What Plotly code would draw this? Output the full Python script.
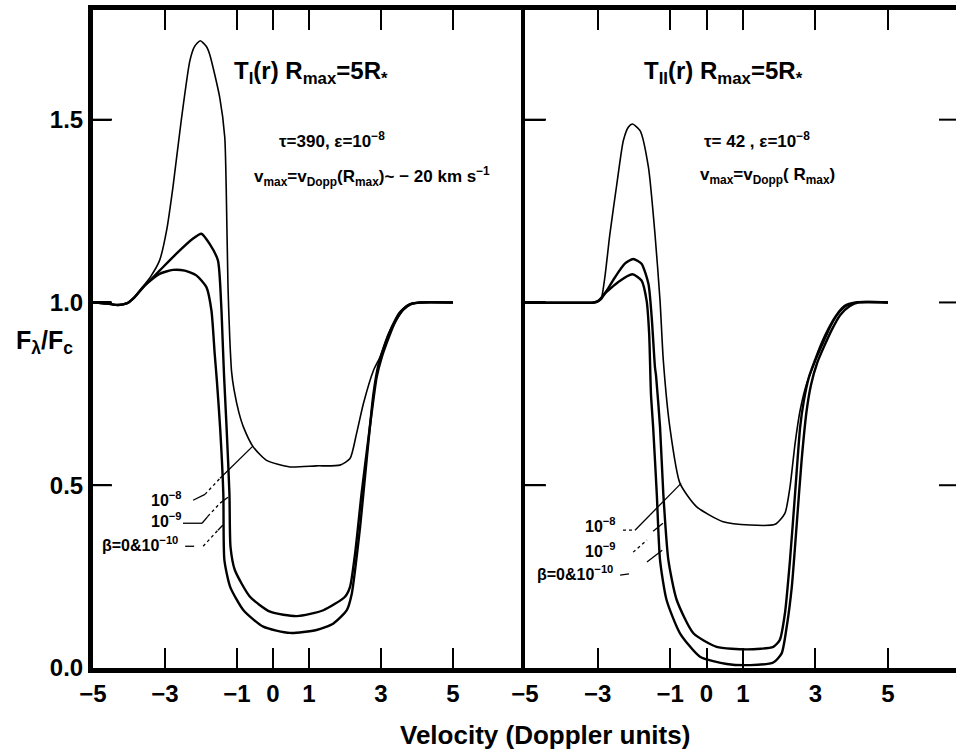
import plotly.graph_objects as go

# ---------------- data ----------------
# Left panel: T_I(r), Rmax = 5 R*
left_a_x = [-5.0, -4.6, -4.3, -4.05, -3.85, -3.6, -3.39, -3.15, -2.95, -2.78, -2.55, -2.31, -2.18, -2.02,
            -1.85, -1.76, -1.48, -1.34, -1.30, -1.25, -1.20, -1.15, -1.08, -0.95, -0.82, -0.55, -0.18, 0.47,
            1.2, 1.86, 2.14, 2.32, 2.51, 2.79, 2.97, 3.12, 3.3, 3.5, 3.75, 4.05, 5.0]
left_a_y = [1.0, 0.997, 0.993, 0.998, 1.014, 1.045, 1.072, 1.115, 1.20, 1.315, 1.497, 1.661, 1.70, 1.716,
            1.70, 1.679, 1.561, 1.452, 1.315, 1.042, 0.90, 0.81, 0.76, 0.70, 0.659, 0.605, 0.568, 0.55,
            0.553, 0.555, 0.573, 0.641, 0.723, 0.814, 0.85, 0.89, 0.935, 0.972, 0.994, 1.0, 1.0]

left_b_x = [-5.0, -4.6, -4.3, -4.05, -3.85, -3.6, -3.15, -2.69, -2.22, -1.99, -1.76, -1.53, -1.44, -1.40,
            -1.36, -1.29, -1.21, -1.18, -1.06, -0.64, -0.08, 0.66, 1.40, 2.0, 2.14, 2.28, 2.46, 2.69, 2.88,
            3.02, 3.18, 3.37, 3.57, 3.8, 4.1, 5.0]
left_b_y = [1.0, 0.997, 0.993, 0.998, 1.014, 1.042, 1.087, 1.133, 1.175, 1.188, 1.16, 1.115, 0.996, 0.90,
            0.80, 0.659, 0.477, 0.331, 0.268, 0.195, 0.154, 0.142, 0.158, 0.195, 0.222, 0.313, 0.477,
            0.659, 0.796, 0.85, 0.895, 0.942, 0.976, 0.995, 1.0, 1.0]

left_c_x = [-5.0, -4.6, -4.3, -4.05, -3.85, -3.61, -3.15, -2.78, -2.45, -2.13, -1.85, -1.71, -1.62, -1.56,
            -1.47, -1.38, -1.35, -1.19, -0.82, -0.27, 0.47, 1.21, 1.68, 2.05, 2.19, 2.28, 2.42, 2.60, 2.79,
            2.93, 3.07, 3.22, 3.42, 3.62, 3.85, 4.1, 5.0]
left_c_y = [1.0, 0.997, 0.993, 0.998, 1.014, 1.042, 1.078, 1.089, 1.087, 1.074, 1.042, 0.978, 0.86, 0.787,
            0.659, 0.477, 0.295, 0.222, 0.158, 0.113, 0.096, 0.104, 0.122, 0.158, 0.204, 0.268, 0.386,
            0.568, 0.75, 0.83, 0.875, 0.915, 0.952, 0.98, 0.996, 1.0, 1.0]

# Right panel: T_II(r), Rmax = 5 R*
right_a_x = [-5.0, -3.1, -2.95, -2.89, -2.80, -2.66, -2.47, -2.29, -2.15, -2.04, -1.83, -1.60, -1.42,
             -1.28, -1.19, -1.01, -0.73, -0.27, 0.46, 1.20, 1.89, 2.16, 2.30, 2.44, 2.58, 2.76, 3.0,
             3.2, 3.4, 3.6, 3.85, 4.15, 5.0]
right_a_y = [1.0, 1.0, 1.005, 1.014, 1.069, 1.188, 1.324, 1.443, 1.48, 1.488, 1.47, 1.37, 1.188,
             1.005, 0.842, 0.659, 0.505, 0.441, 0.40, 0.391, 0.393, 0.423, 0.495, 0.614, 0.705, 0.778,
             0.84, 0.885, 0.93, 0.965, 0.99, 1.0, 1.0]

right_b_x = [-5.0, -3.1, -3.0, -2.88, -2.70, -2.52, -2.25, -2.02, -1.79, -1.60, -1.51, -1.42, -1.39,
             -1.28, -1.19, -1.05, -0.82, -0.36, 0.28, 1.11, 1.84, 2.02, 2.16, 2.30, 2.44, 2.58, 2.68,
             2.82, 3.0, 3.17, 3.37, 3.57, 3.8, 4.1, 5.0]
right_b_y = [1.0, 1.0, 1.003, 1.015, 1.04, 1.069, 1.106, 1.119, 1.106, 1.051, 0.96, 0.823, 0.80,
             0.659, 0.477, 0.295, 0.186, 0.095, 0.058, 0.051, 0.058, 0.077, 0.149, 0.295, 0.477,
             0.659, 0.73, 0.795, 0.845, 0.888, 0.93, 0.964, 0.99, 1.0, 1.0]

right_c_x = [-5.0, -3.1, -3.0, -2.9, -2.80, -2.43, -2.04, -1.79, -1.65, -1.58, -1.53, -1.47, -1.37,
             -1.28, -1.10, -0.73, -0.18, 0.56, 1.20, 1.84, 2.07, 2.21, 2.35, 2.48, 2.62, 2.76, 2.88,
             3.05, 3.25, 3.45, 3.68, 3.95, 4.2, 5.0]
right_c_y = [1.0, 1.0, 1.003, 1.01, 1.024, 1.056, 1.077, 1.06, 1.005, 0.915, 0.75, 0.659, 0.477,
             0.295, 0.186, 0.095, 0.031, 0.011, 0.008, 0.015, 0.04, 0.113, 0.222, 0.386, 0.568,
             0.705, 0.775, 0.835, 0.882, 0.925, 0.965, 0.99, 1.0, 1.0]

x_tick_vals = [-5, -3, -1, 0, 1, 3, 5]
x_tick_text = ["\u22125", "\u22123", "\u22121", "0", "1", "3", "5"]
y_tick_vals = [0.0, 0.5, 1.0, 1.5]
y_tick_text = ["0.0", "0.5", "1.0", "1.5"]

# ---------------- figure ----------------
FONT = "Liberation Sans"
fig = go.Figure()

def curve(x, y, xa, ya, w):
    fig.add_trace(go.Scatter(x=x, y=y, xaxis=xa, yaxis=ya, mode="lines",
                             line=dict(color="black", width=w, shape="spline", smoothing=0.6),
                             hoverinfo="skip", showlegend=False))

curve(left_a_x, left_a_y, "x", "y", 1.6)
curve(left_b_x, left_b_y, "x", "y", 2.4)
curve(left_c_x, left_c_y, "x", "y", 2.4)
curve(right_a_x, right_a_y, "x2", "y2", 1.6)
curve(right_b_x, right_b_y, "x2", "y2", 2.4)
curve(right_c_x, right_c_y, "x2", "y2", 2.4)

W, H = 956, 753
L, R, T, B = 93, 0, 10, 85
pw = W - L - R
split = 432 / pw
right_hi = -5 + 431 / 36.3

tickfont = dict(family=FONT, size=24, color="black", weight="bold")
common_x = dict(tickvals=x_tick_vals, ticktext=x_tick_text, ticks="inside", ticklen=20, tickwidth=2,
                tickcolor="black", showline=True, linewidth=5, linecolor="black", mirror="ticks",
                showgrid=False, zeroline=False, tickfont=tickfont)
fig.update_layout(
    width=W, height=H, margin=dict(l=L, r=R, t=T, b=B),
    paper_bgcolor="white", plot_bgcolor="white",
    xaxis=dict(domain=[0, split], range=[-5, 7], anchor="y", **common_x),
    xaxis2=dict(domain=[split, 1], range=[-5, right_hi], anchor="y2", **common_x),
    yaxis=dict(range=[0, 1.8], tickvals=y_tick_vals, ticktext=y_tick_text, ticks="inside", ticklen=18,
               tickwidth=2, tickcolor="black", showline=True, linewidth=5, linecolor="black",
               showgrid=False, zeroline=False, tickfont=tickfont, anchor="x"),
    yaxis2=dict(range=[0, 1.8], tickvals=y_tick_vals, ticks="inside", ticklen=20, tickwidth=2,
                tickcolor="black", showline=True, linewidth=4, linecolor="black", showticklabels=False,
                showgrid=False, zeroline=False, anchor="x2"),
)

ann = []
def txt(text, x, y, xref, yref, size, bold=True, xanchor="center"):
    ann.append(dict(text=text, x=x, y=y, xref=xref, yref=yref, showarrow=False, xanchor=xanchor,
                    yanchor="middle",
                    font=dict(family=FONT, size=size, color="black", weight="bold" if bold else "normal")))

# panel titles and parameters
txt("T<sub>I</sub>(r) R<sub>max</sub>=5R<sub>*</sub>", 1.06, 1.63, "x", "y", 24)
txt("\u03c4=390, \u03b5=10<sup>\u22128</sup>", 1.64, 1.445, "x", "y", 17)
txt("v<sub>max</sub>=v<sub>Dopp</sub>(R<sub>max</sub>)~ \u2212 20 km s<sup>\u22121</sup>", 2.75, 1.345, "x", "y", 17)
txt("T<sub>II</sub>(r) R<sub>max</sub>=5R<sub>*</sub>", 0.48, 1.63, "x2", "y2", 24)
txt("\u03c4= 42 , \u03b5=10<sup>\u22128</sup>", 1.39, 1.445, "x2", "y2", 17)
txt("v<sub>max</sub>=v<sub>Dopp</sub>( R<sub>max</sub>)", 1.69, 1.345, "x2", "y2", 17)

# curve labels
txt("10<sup>\u22128</sup>", -2.97, 0.462, "x", "y", 16)
txt("10<sup>\u22129</sup>", -2.97, 0.405, "x", "y", 16)
txt("\u03b2=0&amp;10<sup>\u221210</sup>", -3.69, 0.338, "x", "y", 16)
txt("10<sup>\u22128</sup>", -2.91, 0.39, "x2", "y2", 16)
txt("10<sup>\u22129</sup>", -2.91, 0.322, "x2", "y2", 16)
txt("\u03b2=0&amp;10<sup>\u221210</sup>", -3.62, 0.26, "x2", "y2", 16)

# axis titles
txt("Velocity (Doppler units)", (545 - L) / pw, -(735 - 668) / 658, "paper", "paper", 26)
txt("F<sub>\u03bb</sub>/F<sub>c</sub>", (44 - L) / pw, (668 - 342) / 658, "paper", "paper", 25)
fig.update_layout(annotations=ann)

# inward y ticks: left frame, divider (into right panel) and the cut-off right edge
for v in y_tick_vals[1:]:
    fig.add_shape(type="line", xref="paper", yref="y", x0=0, x1=19 / pw, y0=v, y1=v,
                  line=dict(color="black", width=2))
    fig.add_shape(type="line", xref="paper", yref="y2", x0=split, x1=split + 21 / pw, y0=v, y1=v,
                  line=dict(color="black", width=2))
    fig.add_shape(type="line", xref="paper", yref="y2", x0=1 - 17 / pw, x1=1, y0=v, y1=v,
                  line=dict(color="black", width=2))

# leader lines from labels to curves
leaders = [
    ("x", "y", -2.22, 0.459, -1.89, 0.475, "solid"), ("x", "y", -1.89, 0.475, -1.47, 0.519, "dot"),
    ("x", "y", -1.47, 0.519, -0.56, 0.607, "solid"),
    ("x", "y", -2.50, 0.396, -1.97, 0.396, "solid"), ("x", "y", -1.97, 0.396, -1.81, 0.415, "solid"),
    ("x", "y", -1.81, 0.415, -1.47, 0.451, "dot"), ("x", "y", -1.47, 0.451, -1.25, 0.467, "solid"),
    ("x", "y", -2.44, 0.333, -1.94, 0.333, "dash"), ("x", "y", -1.94, 0.333, -1.53, 0.377, "dot"),
    ("x", "y", -1.53, 0.377, -1.39, 0.391, "solid"),
    ("x2", "y2", -2.30, 0.377, -1.97, 0.377, "dot"), ("x2", "y2", -1.97, 0.377, -0.70, 0.505, "solid"),
    ("x2", "y2", -2.02, 0.317, -1.64, 0.350, "dot"), ("x2", "y2", -1.47, 0.374, -1.20, 0.396, "solid"),
    ("x2", "y2", -2.38, 0.254, -1.92, 0.260, "dash"), ("x2", "y2", -1.64, 0.290, -1.22, 0.322, "solid"),
]
for xr, yr, x0, y0, x1, y1, dash in leaders:
    fig.add_shape(type="line", xref=xr, yref=yr, x0=x0, y0=y0, x1=x1, y1=y1,
                  line=dict(color="black", width=1.3, dash=dash))

fig.write_html("out.html")
